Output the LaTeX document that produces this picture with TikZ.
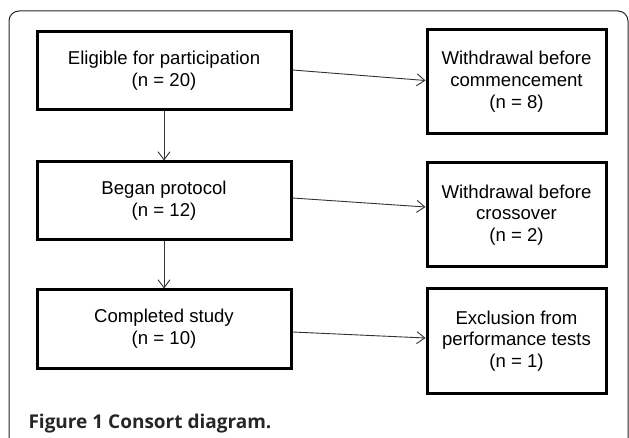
\documentclass[tikz,border=0pt]{standalone}
\usepackage{fontspec}
\setmainfont{Liberation Sans}
\newfontfamily\capfont{Open Sans}
\usetikzlibrary{arrows.meta}
\usetikzlibrary{positioning}
\tikzstyle{stagebox}=[draw,line width=3pt,align=center,minimum width=254pt,minimum height=78pt,inner sep=0pt,font=\fontsize{18.6}{21.8}\selectfont]
\tikzstyle{lossbox}=[stagebox,minimum width=179pt,minimum height=104pt]
\tikzstyle{flow} = [draw,line width=0.9pt,black!80,-{Straight Barb[length=8pt,width=12pt]}]

\begin{document}
\begin{tikzpicture}[x=1pt,y=-1pt]
    \useasboundingbox (0,0) rectangle (629,438);
    \draw[line width=1pt,black!85,rounded corners=10pt] (9,438) -- (9,11) -- (628,11) -- (628,438);

    \foreach \pos/\name/\txt in {{(164,71)/elig/Eligible for participation\\(n = 20)}, {(164,201)/began/Began protocol\\(n = 12)}, {(164,329)/done/Completed study\\(n = 10)}}
        \node[stagebox] (\name) at \pos {\txt};

    \foreach \pos/\name/\txt in {{(516.5,81.5)/wdstart/Withdrawal before\\commencement\\(n = 8)}, {(516.5,215)/wdcross/Withdrawal before\\crossover\\(n = 2)}, {(516.5,341)/excl/Exclusion from\\performance tests\\(n = 1)}}
        \node[lossbox] (\name) at \pos {\txt};

    \foreach \source/\dest in {elig/began, began/done}
        \path[flow] (\source) -- (\dest);

    \path[flow] ([yshift=1pt]elig.east) -- ([yshift=1pt]wdstart.west);
    \path[flow] ([yshift=3pt]began.east) -- ([yshift=8pt]wdcross.west);
    \path[flow] ([yshift=-3pt]done.east) -- ([yshift=3pt]excl.west);

    \node[anchor=base west,text=black!85,font=\capfont\bfseries\fontsize{19}{21}\selectfont] (caption) at (25,428) {Figure 1 Consort diagram.};
\end{tikzpicture}
\end{document}
